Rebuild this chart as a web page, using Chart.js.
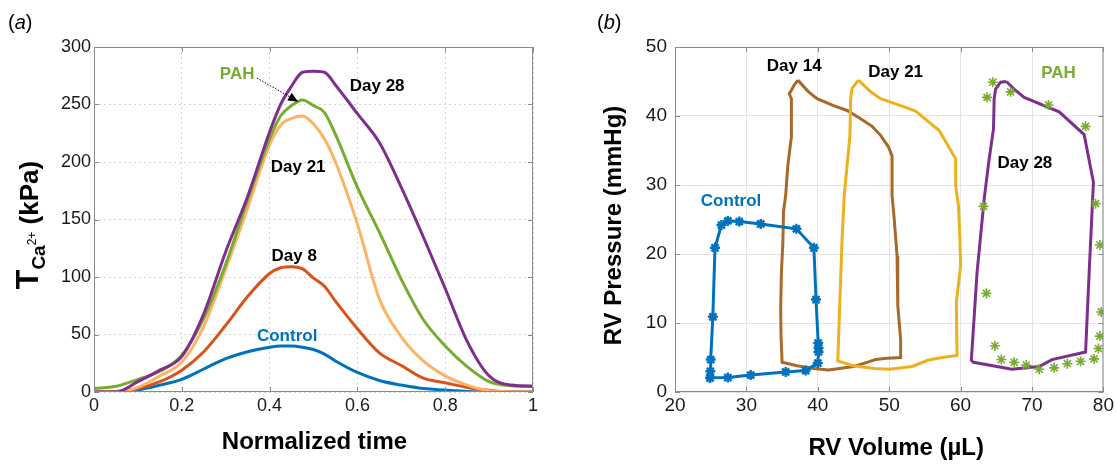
<!DOCTYPE html>
<html>
<head>
<meta charset="utf-8">
<script src="https://cdn.jsdelivr.net/npm/chart.js@4.4.1/dist/chart.umd.min.js"></script>
<style>
    html, body { margin: 0; padding: 0; background: #fff; }
    #wrap { position: relative; width: 1116px; height: 465px; }
    #chart-a { position: absolute; left: 0; top: 0; }
    #chart-b { position: absolute; left: 560px; top: 0; }
</style>
</head>
<body>
<div id="wrap">
    <canvas id="chart-a" width="560" height="465"></canvas>
    <canvas id="chart-b" width="556" height="465"></canvas>
</div>
<script>
// panel (a): calcium tension vs normalized time
const normTime = [0, 0.05, 0.1, 0.15, 0.2, 0.25, 0.3, 0.35, 0.4, 0.425, 0.45, 0.475, 0.5, 0.525, 0.55, 0.6, 0.65, 0.7, 0.75, 0.8, 0.85, 0.9, 0.95, 1];
const tensionControl = [0, 0.5, 2, 6, 11, 20, 29, 35, 39, 40, 40, 39, 37, 33, 27, 17, 10, 6, 3, 1.7, 0.5, 0, 0, 0];
const tensionDay8 = [0, 0, 3, 9, 19, 35, 58, 83, 103, 108, 109, 107, 99, 92, 79, 55, 34, 23, 12, 8, 4, 1.5, 0, 0];
const tensionDay21 = [0, 0, 4, 14, 26, 57, 107, 160, 215, 232, 238, 240, 233, 220, 200, 146, 81, 48, 27, 14, 6, 1, 0, 0];
const tensionPAH = [3, 5, 11, 18, 32, 64, 111, 167, 220, 240, 249, 254, 249, 243, 224, 178, 139, 98, 63, 40, 22, 9, 5.5, 5];
const tensionDay28 = [0, 0, 9, 19, 31, 68, 122, 170, 226, 250, 266, 278, 279, 278, 267, 242, 217, 178, 135, 90, 44, 14, 6, 5];
const timeTicks = [0, 0.2, 0.4, 0.6, 0.8, 1];

// panel (b): pressure-volume loops
const controlVol = [24.9, 24.95, 25.0, 25.3, 25.6, 26.5, 27.4, 29.0, 32.0, 37.0, 39.45, 39.75, 40.05, 40.1, 40.1, 40.0, 38.3, 35.5, 30.6, 27.4, 24.9];
const controlPres = [2.05, 3.0, 4.7, 10.9, 20.9, 24.2, 24.8, 24.7, 24.35, 23.65, 20.9, 13.4, 7.1, 6.4, 5.8, 4.2, 3.1, 2.9, 2.45, 2.1, 2.05];
const day14Vol = [37.2, 38.7, 39.9, 42.2, 44.1, 46.0, 47.6, 48.8, 49.9, 50.4, 50.4, 50.7, 51.1, 51.2, 51.6, 51.6, 49.7, 48.1, 46.9, 45.0, 41.5, 39.4, 37.1, 35.0, 34.85, 34.8, 34.9, 35.1, 35.2, 35.5, 35.8, 36.3, 36.3, 36.0, 36.7, 37.2];
const day14Pres = [45.2, 43.5, 42.5, 41.5, 40.8, 39.6, 38.5, 37.2, 35.5, 34.2, 28.5, 25.1, 19.7, 12.5, 7.6, 5.0, 4.9, 4.7, 4.3, 3.7, 3.2, 3.4, 3.8, 4.3, 8.0, 12.0, 17.3, 21.5, 26.2, 28.5, 32.8, 37.0, 42.5, 43.2, 44.5, 45.2];
const day21Vol = [45.7, 47.4, 48.8, 51.6, 53.7, 57.0, 59.3, 59.3, 59.7, 59.9, 60.0, 59.4, 59.5, 57.4, 55.4, 53.2, 50.0, 47.9, 45.0, 42.8, 42.9, 43.1, 43.4, 43.7, 44.5, 44.6, 44.8, 45.7];
const day21Pres = [45.2, 43.5, 42.5, 41.5, 40.7, 37.9, 33.8, 29.9, 27.0, 22.2, 18.3, 13.0, 5.3, 5.0, 4.6, 3.7, 3.3, 3.4, 3.8, 4.5, 7.6, 13.5, 22.2, 28.5, 37.2, 42.5, 44.0, 45.2];
const day28Vol = [66.4, 67.7, 68.9, 73.8, 77.3, 78.6, 78.0, 77.5, 72.8, 71.0, 67.2, 61.8, 61.5, 62.3, 63.3, 64.0, 64.6, 64.7, 64.9, 65.6, 66.4];
const day28Pres = [45.0, 43.7, 42.7, 40.6, 37.3, 30.4, 17.3, 5.8, 4.7, 3.7, 3.3, 4.3, 4.6, 17.3, 28.0, 33.8, 38.1, 42.5, 43.9, 44.9, 45.0];
const pahVol = [64.5, 63.7, 67.0, 72.3, 77.5, 78.9, 79.5, 79.7, 79.5, 79.3, 78.7, 76.8, 74.95, 73.1, 71.0, 69.2, 67.5, 65.7, 64.8, 63.6, 63.2];
const pahPres = [44.9, 42.7, 43.5, 41.6, 38.5, 27.3, 21.3, 11.6, 8.1, 6.3, 4.8, 4.45, 4.1, 3.5, 3.3, 3.9, 4.3, 4.7, 6.7, 14.3, 26.9];

const FONT = '"Liberation Sans", Arial, sans-serif';
const BLUE = '#0072BD', RED = '#D95319', LIGHT_ORANGE = '#FDB366', GREEN = '#77AC30',
      PURPLE = '#7E2F8E', BROWN = '#A8692B', GOLD = '#EDB120';

const toPoints = (xs, ys) => xs.map((x, i) => ({ x, y: ys[i] }));

// labels placed in data units
const labelsA = [
    { text: 'PAH', x: 0.326, y: 276.5, color: GREEN },
    { text: 'Day 28', x: 0.645, y: 266, color: '#000' },
    { text: 'Day 21', x: 0.465, y: 195, color: '#000' },
    { text: 'Day 8', x: 0.456, y: 118, color: '#000' },
    { text: 'Control', x: 0.44, y: 48.7, color: BLUE }
];
const labelsB = [
    { text: 'Day 14', x: 36.7, y: 47.2, color: '#000' },
    { text: 'Day 21', x: 50.9, y: 46.4, color: '#000' },
    { text: 'PAH', x: 73.7, y: 46.2, color: GREEN },
    { text: 'Day 28', x: 69.0, y: 33.2, color: '#000' },
    { text: 'Control', x: 27.85, y: 27.6, color: BLUE }
];

function drawFrame(chart) {
    const { ctx, chartArea: a, scales } = chart;
    ctx.save();
    ctx.strokeStyle = '#8a8a8a';
    ctx.lineWidth = 1;
    ctx.strokeRect(a.left + 0.5, a.top + 0.5, a.width - 1, a.height - 1);
    ctx.beginPath();
    scales.x.ticks.forEach(t => {
        const px = Math.round(scales.x.getPixelForValue(t.value)) + 0.5;
        ctx.moveTo(px, a.bottom); ctx.lineTo(px, a.bottom - 5);
        ctx.moveTo(px, a.top); ctx.lineTo(px, a.top + 5);
    });
    scales.y.ticks.forEach(t => {
        const py = Math.round(scales.y.getPixelForValue(t.value)) + 0.5;
        ctx.moveTo(a.left, py); ctx.lineTo(a.left + 5, py);
        ctx.moveTo(a.right, py); ctx.lineTo(a.right - 5, py);
    });
    ctx.stroke();
    ctx.restore();
}

function drawLabels(chart, labels) {
    const { ctx, scales } = chart;
    ctx.save();
    ctx.font = `bold 17px ${FONT}`;
    ctx.textAlign = 'center';
    ctx.textBaseline = 'middle';
    labels.forEach(l => {
        ctx.fillStyle = l.color;
        ctx.fillText(l.text, scales.x.getPixelForValue(l.x), scales.y.getPixelForValue(l.y));
    });
    ctx.restore();
}

function drawPanelLetter(ctx, letter, x, y) {
    ctx.save();
    ctx.fillStyle = '#000';
    ctx.textBaseline = 'alphabetic';
    ctx.font = `20px ${FONT}`;
    ctx.fillText('(', x, y);
    let w = ctx.measureText('(').width;
    ctx.font = `italic 20px ${FONT}`;
    ctx.fillText(letter, x + w, y);
    w += ctx.measureText(letter).width;
    ctx.font = `20px ${FONT}`;
    ctx.fillText(')', x + w, y);
    ctx.restore();
}

const decorA = {
    id: 'decorA',
    afterDraw(chart) {
        const { ctx, chartArea: a, scales } = chart;
        drawFrame(chart);
        drawLabels(chart, labelsA);

        // dotted arrow from PAH label to the PAH peak
        const x0 = scales.x.getPixelForValue(0.371), y0 = scales.y.getPixelForValue(273);
        const x1 = scales.x.getPixelForValue(0.465), y1 = scales.y.getPixelForValue(252.5);
        const ang = Math.atan2(y1 - y0, x1 - x0);
        ctx.save();
        ctx.strokeStyle = '#000';
        ctx.lineWidth = 1;
        ctx.setLineDash([1.5, 1.5]);
        ctx.beginPath();
        ctx.moveTo(x0, y0);
        ctx.lineTo(x1 - 8 * Math.cos(ang), y1 - 8 * Math.sin(ang));
        ctx.stroke();
        ctx.setLineDash([]);
        ctx.fillStyle = '#000';
        ctx.beginPath();
        ctx.moveTo(x1, y1);
        ctx.lineTo(x1 - 10 * Math.cos(ang) + 4.5 * Math.sin(ang), y1 - 10 * Math.sin(ang) - 4.5 * Math.cos(ang));
        ctx.lineTo(x1 - 10 * Math.cos(ang) - 4.5 * Math.sin(ang), y1 - 10 * Math.sin(ang) + 4.5 * Math.cos(ang));
        ctx.closePath();
        ctx.fill();
        ctx.restore();

        // x title
        ctx.save();
        ctx.fillStyle = '#000';
        ctx.font = `bold 24px ${FONT}`;
        ctx.textAlign = 'center';
        ctx.textBaseline = 'middle';
        ctx.fillText('Normalized time', (a.left + a.right) / 2 + 1, a.bottom + 50);
        ctx.restore();

        // y title: T with subscript Ca and superscript 2+
        const parts = [
            { t: 'T', font: `bold 32px ${FONT}`, dy: 0 },
            { t: 'Ca', font: `bold 19px ${FONT}`, dy: 7 },
            { t: '2+', font: `12px ${FONT}`, dy: -2 },
            { t: ' (kPa)', font: `bold 26px ${FONT}`, dy: 0 }
        ];
        ctx.save();
        let total = 0;
        parts.forEach(p => { ctx.font = p.font; p.w = ctx.measureText(p.t).width; total += p.w; });
        ctx.translate(38, 225);
        ctx.rotate(-Math.PI / 2);
        ctx.fillStyle = '#000';
        ctx.textBaseline = 'alphabetic';
        let cx = -total / 2;
        parts.forEach(p => {
            ctx.font = p.font;
            ctx.fillText(p.t, cx, p.dy);
            cx += p.w;
        });
        ctx.restore();

        drawPanelLetter(ctx, 'a', 8, 29);
    }
};

const decorB = {
    id: 'decorB',
    afterDraw(chart) {
        const { ctx, chartArea: a } = chart;
        drawFrame(chart);
        drawLabels(chart, labelsB);
        ctx.save();
        ctx.fillStyle = '#000';
        ctx.font = `bold 24px ${FONT}`;
        ctx.textAlign = 'center';
        ctx.textBaseline = 'middle';
        ctx.fillText('RV Volume (\u00b5L)', (a.left + a.right) / 2 + 7, a.bottom + 56);
        ctx.translate(54, (a.top + a.bottom) / 2 + 6);
        ctx.rotate(-Math.PI / 2);
        ctx.fillText('RV Pressure (mmHg)', 0, 0);
        ctx.restore();
        drawPanelLetter(ctx, 'b', 37, 29);
    }
};

function lineSet(data, color) {
    return {
        data, borderColor: color, backgroundColor: color, borderWidth: 3,
        pointRadius: 0, fill: false, cubicInterpolationMode: 'monotone'
    };
}

new Chart(document.getElementById('chart-a'), {
    type: 'line',
    data: {
        datasets: [
            lineSet(toPoints(normTime, tensionDay28), PURPLE),
            lineSet(toPoints(normTime, tensionPAH), GREEN),
            lineSet(toPoints(normTime, tensionDay21), LIGHT_ORANGE),
            lineSet(toPoints(normTime, tensionDay8), RED),
            lineSet(toPoints(normTime, tensionControl), BLUE)
        ]
    },
    options: {
        responsive: false,
        animation: false,
        layout: { padding: { left: 0, top: 47, right: 27, bottom: 0 } },
        plugins: { legend: { display: false }, tooltip: { enabled: false } },
        scales: {
            x: {
                type: 'linear', min: 0, max: 1,
                afterFit: s => { s.height = 73; },
                afterBuildTicks: s => { s.ticks = timeTicks.map(v => ({ value: v })); },
                ticks: { font: { family: FONT, size: 18 }, color: '#1a1a1a', padding: 3, maxRotation: 0,
                         callback: v => String(v) },
                grid: { color: '#d4d4d4', drawTicks: false },
                border: { display: false, dash: [2, 3] }
            },
            y: {
                min: 0, max: 300,
                afterFit: s => { s.width = 94; },
                ticks: { stepSize: 50, font: { family: FONT, size: 18 }, color: '#1a1a1a', padding: 3 },
                grid: { color: '#d4d4d4', drawTicks: false },
                border: { display: false, dash: [2, 3] }
            }
        }
    },
    plugins: [decorA]
});

new Chart(document.getElementById('chart-b'), {
    type: 'scatter',
    data: {
        datasets: [
            { data: toPoints(pahVol, pahPres), showLine: false, pointStyle: 'star', pointRadius: 5,
              borderColor: GREEN, backgroundColor: GREEN, borderWidth: 1.6 },
            { data: toPoints(controlVol, controlPres), showLine: true, pointStyle: 'star', pointRadius: 5,
              borderColor: BLUE, backgroundColor: BLUE, borderWidth: 3, pointBorderWidth: 2.4 },
            { data: toPoints(day28Vol, day28Pres), showLine: true, pointRadius: 0,
              borderColor: PURPLE, borderWidth: 3 },
            { data: toPoints(day21Vol, day21Pres), showLine: true, pointRadius: 0,
              borderColor: GOLD, borderWidth: 3 },
            { data: toPoints(day14Vol, day14Pres), showLine: true, pointRadius: 0,
              borderColor: BROWN, borderWidth: 3 }
        ]
    },
    options: {
        responsive: false,
        animation: false,
        layout: { padding: { left: 0, top: 47, right: 11, bottom: 0 } },
        plugins: { legend: { display: false }, tooltip: { enabled: false } },
        scales: {
            x: {
                type: 'linear', min: 20, max: 80,
                afterFit: s => { s.height = 73; },
                ticks: { stepSize: 10, font: { family: FONT, size: 19 }, color: '#1a1a1a', padding: 2, maxRotation: 0 },
                grid: { color: '#e4e4e4', drawTicks: false },
                border: { display: false }
            },
            y: {
                min: 0, max: 50,
                afterFit: s => { s.width = 115; },
                ticks: { stepSize: 10, font: { family: FONT, size: 19 }, color: '#1a1a1a', padding: 8 },
                grid: { color: '#e4e4e4', drawTicks: false },
                border: { display: false }
            }
        }
    },
    plugins: [decorB]
});
</script>
</body>
</html>
